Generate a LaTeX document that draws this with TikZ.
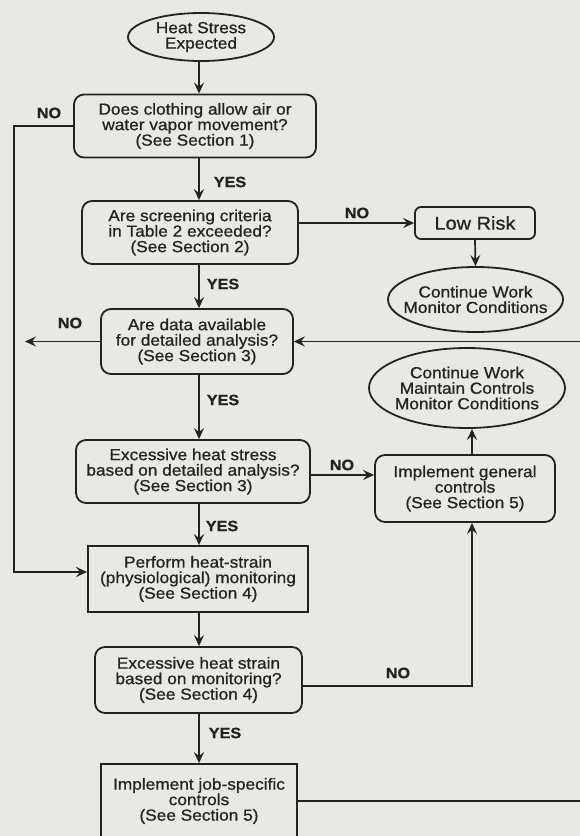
\documentclass[tikz,border=0pt]{standalone}
\usepackage{fontspec}
\setmainfont{Liberation Sans}[FakeStretch=1.08,FakeBold=0.8]
\usetikzlibrary{arrows.meta,shapes.geometric}
\definecolor{bg}{RGB}{232,232,228}
\definecolor{ink}{RGB}{35,35,35}
\begin{document}
\begin{tikzpicture}[x=1pt,y=-1pt,
  every node/.style={text=ink, align=center, font=\fontsize{16}{15.5}\selectfont, inner sep=0pt},
  rbox/.style={draw=ink, line width=1.8pt, rounded corners=10pt},
  sbox/.style={draw=ink, line width=1.8pt},
  oval/.style={draw=ink, line width=1.8pt, ellipse, inner xsep=-30pt, inner ysep=-8pt},
  conn/.style={draw=ink, line width=1.7pt},
  arr/.style={conn, -{Stealth[length=11pt,width=10pt,inset=4pt]}},
  lbl/.style={font=\bfseries\fontsize{15}{15}\selectfont},
]
\useasboundingbox (0,0) rectangle (580,836);
\clip (0,0) rectangle (580,836);
\fill[bg] (0,0) rectangle (580,836);

% nodes
\node[oval, minimum width=146pt, minimum height=48pt] (start) at (201,37) {Heat Stress\\Expected};
\node[rbox, minimum width=242pt, minimum height=63pt] (q1) at (195,126) {Does clothing allow air or\\water vapor movement?\\(See Section 1)};
\node[rbox, minimum width=216pt, minimum height=63pt] (q2) at (190,232.5) {Are screening criteria\\in Table 2 exceeded?\\(See Section 2)};
\node[rbox, rounded corners=6pt, minimum width=120pt, minimum height=32pt, font=\fontsize{18.5}{18}\selectfont] (low) at (475,223) {Low Risk};
\node[oval, minimum width=175pt, minimum height=65pt] (ok1) at (475.5,299.5) {Continue Work\\Monitor Conditions};
\node[rbox, minimum width=192pt, minimum height=65pt] (q3) at (197,341.5) {Are data available\\for detailed analysis?\\(See Section 3)};
\node[oval, minimum width=196pt, minimum height=80pt] (ok2) at (467,388) {Continue Work\\Maintain Controls\\Monitor Conditions};
\node[rbox, minimum width=234pt, minimum height=63pt] (q4) at (193,471.5) {Excessive heat stress\\based on detailed analysis?\\(See Section 3)};
\node[rbox, minimum width=180pt, minimum height=67pt] (gen) at (465,488.5) {Implement general\\controls\\(See Section 5)};
\node[sbox, minimum width=220pt, minimum height=66pt] (mon) at (198,579) {Perform heat-strain\\(physiological) monitoring\\(See Section 4)};
\node[rbox, minimum width=207pt, minimum height=66pt] (q5) at (198.5,680) {Excessive heat strain\\based on monitoring?\\(See Section 4)};
\node[sbox, minimum width=196pt, minimum height=74pt] (job) at (199,801) {Implement job-specific\\controls\\(See Section 5)};

% helper coordinates
\coordinate (colA) at (199,0);
\coordinate (colB) at (472,0);
\coordinate (leftx) at (14,0);
\coordinate (rightx) at (600,0);
\coordinate (noend) at (25,341.5);
\coordinate (a2) at ([yshift=7pt]mon.west);
\coordinate (b2) at (q2.east |- low.west);
\coordinate (c1) at ([yshift=-3.5pt]q4.east);
\coordinate (d1) at ([yshift=-6pt]q5.east);

% main column
\draw[arr] (start.south -| colA) -- (q1.north -| colA);
\draw[arr] (q1.south -| colA) -- (q2.north -| colA);
\draw[arr] (q2.south -| colA) -- (q3.north -| colA);
\draw[arr] (q3.south -| colA) -- (q4.north -| colA);
\draw[arr] (q4.south -| colA) -- (mon.north -| colA);
\draw[arr] (mon.south -| colA) -- (q5.north -| colA);
\draw[arr] (q5.south -| colA) -- (job.north -| colA);

% branches
\draw[arr] (q1.west) -| (leftx |- a2) -- (a2);
\draw[arr] (q3.west) -- (noend);
\draw[arr] (b2) -- (low.west);
\draw[arr] (low.south) -- (ok1.north);
\draw[arr] (c1) -- (c1 -| gen.west);
\draw[arr] (gen.north -| colB) -- (ok2.south -| colB);
\draw[arr] (d1) -| (gen.south -| colB);
\draw[arr] (job.east) -| (rightx |- q3.east) -- (q3.east);

% labels
\node[lbl] (l1) at (49,113) {NO};
\node[lbl] (l2) at (230,182) {YES};
\node[lbl] (l3) at (357,213) {NO};
\node[lbl] (l4) at (223,284) {YES};
\node[lbl] (l5) at (70,323) {NO};
\node[lbl] (l6) at (223,400) {YES};
\node[lbl] (l7) at (342,465) {NO};
\node[lbl] (l8) at (222,526) {YES};
\node[lbl] (l9) at (398,673) {NO};
\node[lbl] (l10) at (225,733) {YES};
\end{tikzpicture}
\end{document}
